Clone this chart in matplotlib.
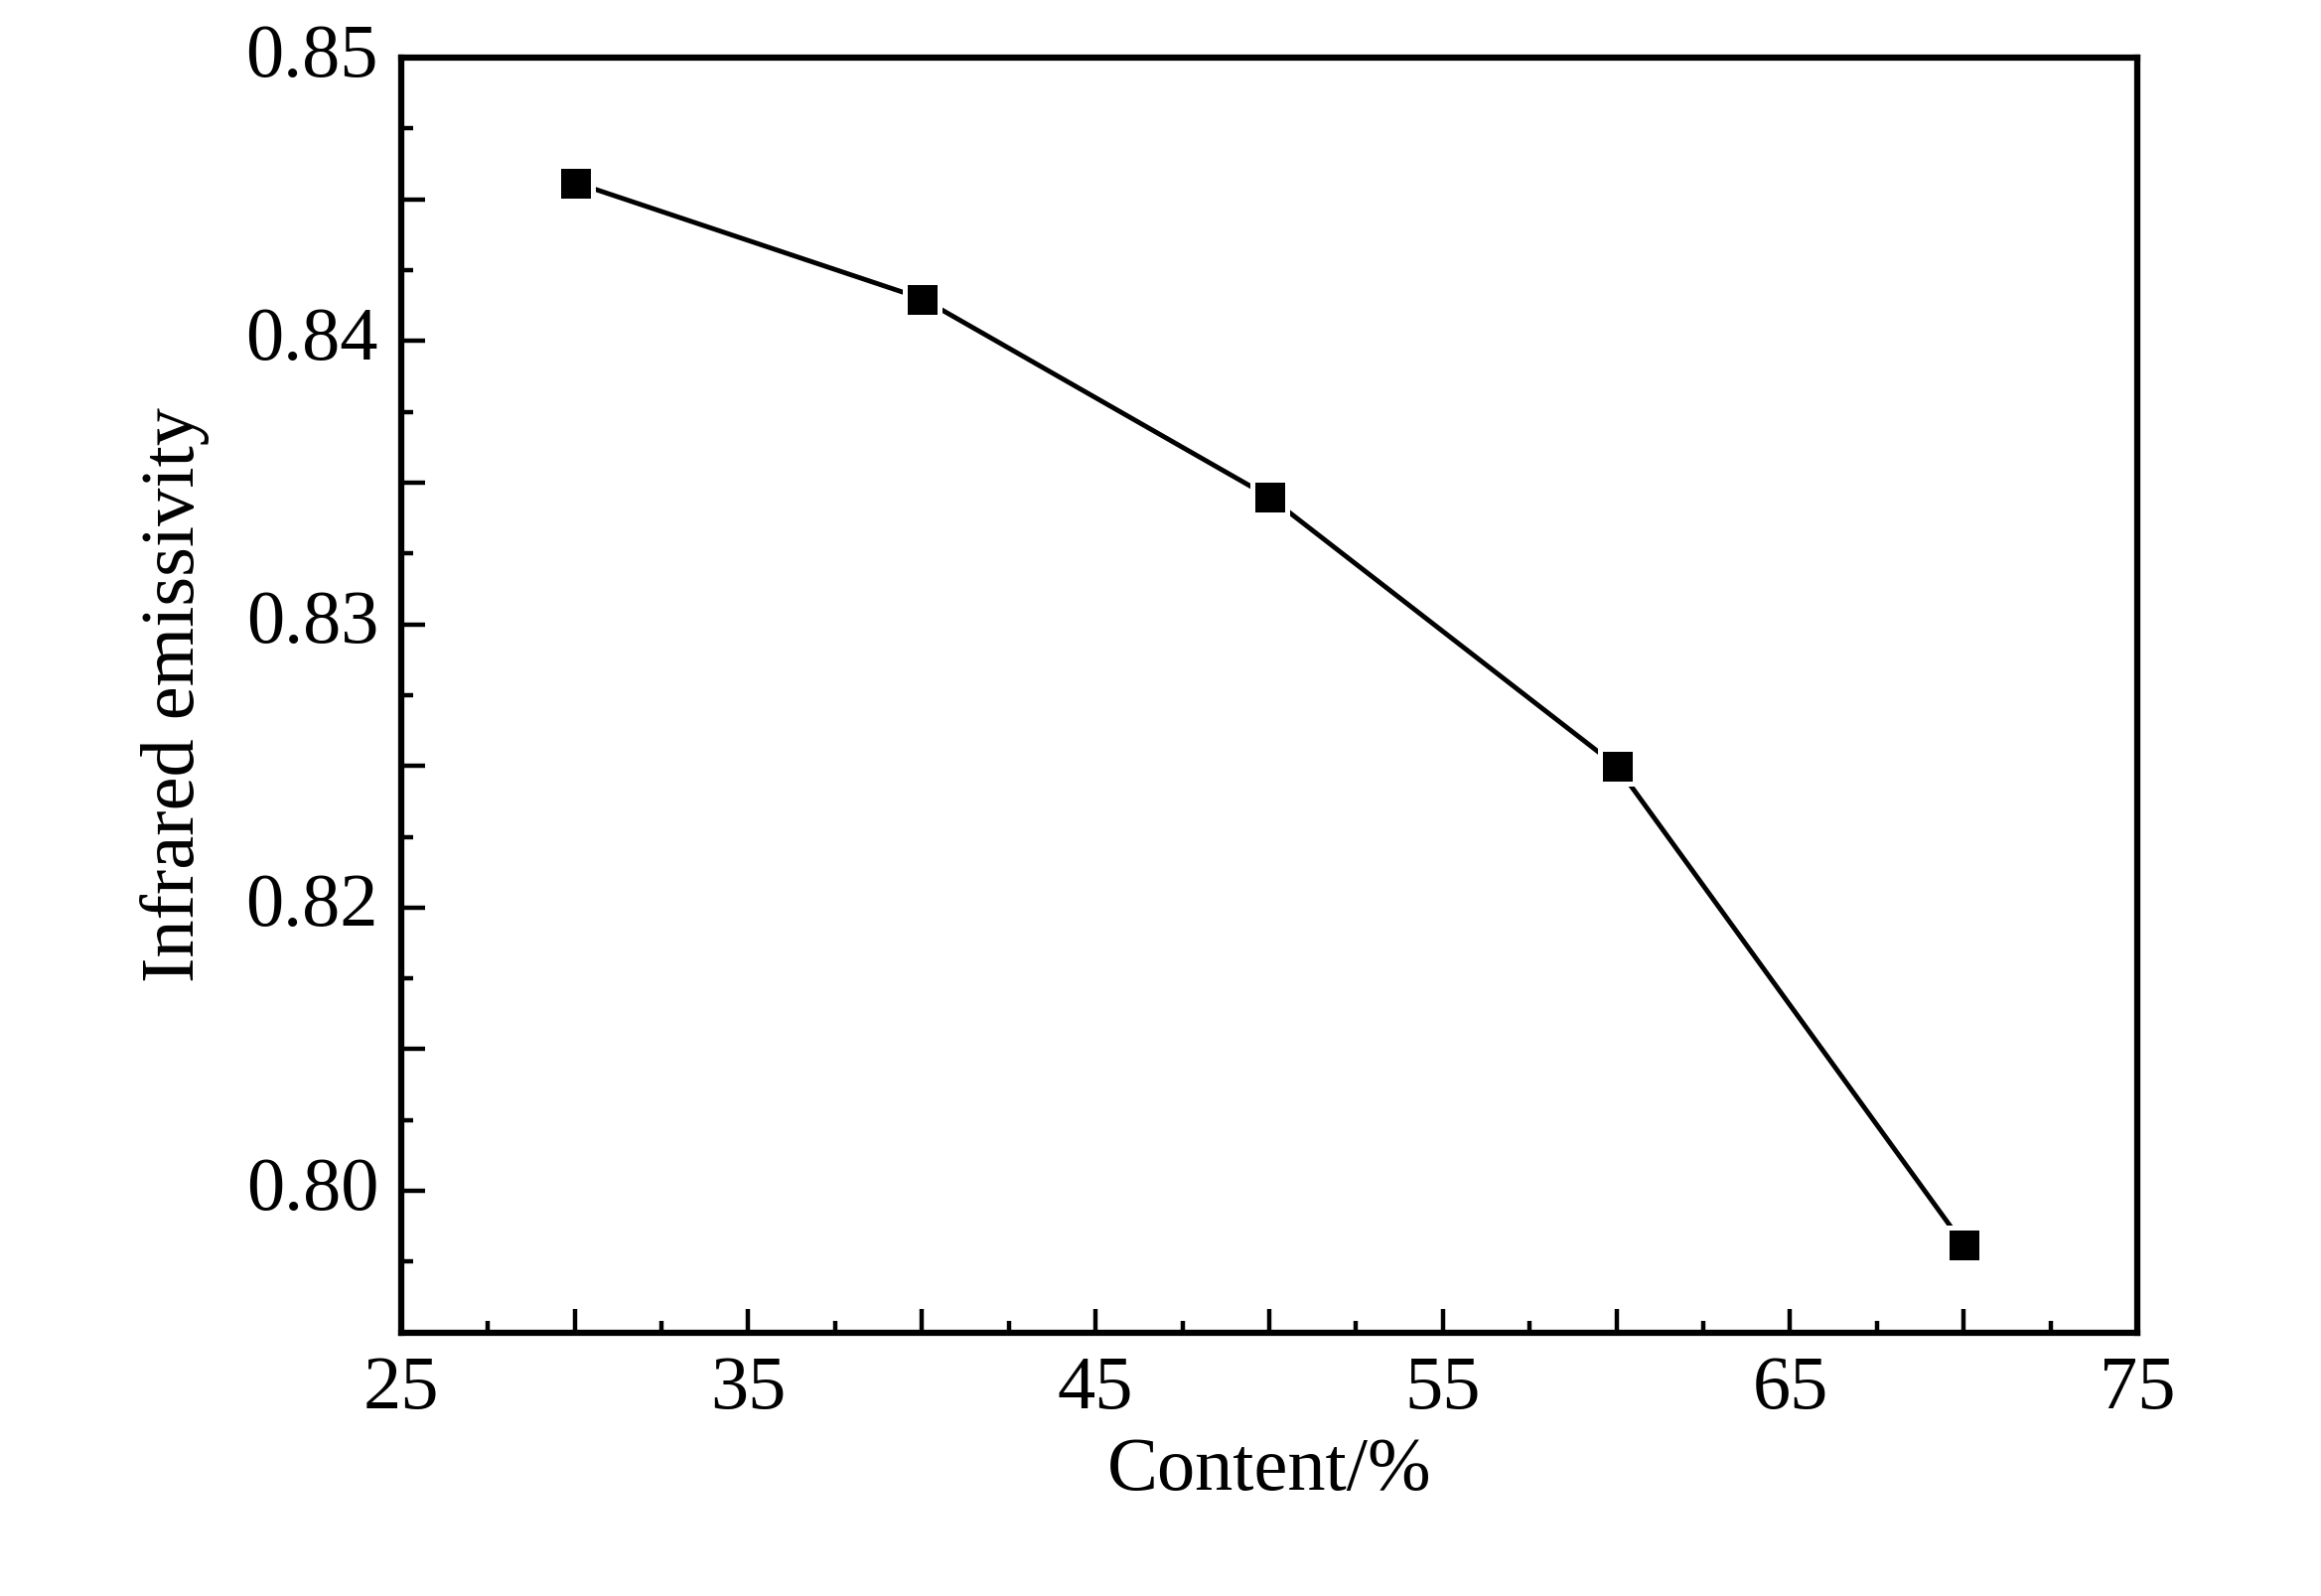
import matplotlib.pyplot as plt
from matplotlib.ticker import MultipleLocator

# Data
content = [30, 40, 50, 60, 70]
emissivity = [0.8456, 0.8415, 0.8345, 0.8250, 0.8081]

# Tick labels as printed in the original (lowest one reads 0.80)
ytick_pos = [0.81, 0.82, 0.83, 0.84, 0.85]
ytick_labels = ['0.80', '0.82', '0.83', '0.84', '0.85']
xtick_pos = [25, 35, 45, 55, 65, 75]
xtick_labels = ['25', '35', '45', '55', '65', '75']

plt.rcParams['font.family'] = ['Liberation Serif', 'DejaVu Serif']
FS = 55

fig = plt.figure(figsize=(23.37, 16.07), dpi=100)
ax = fig.add_axes([0.1728, 0.1651, 0.7481, 0.7987])

# line first, then markers with white edge to leave a small gap
ax.plot(content, emissivity, color='black', linewidth=3.5, zorder=2)
ax.plot(content, emissivity, linestyle='none', marker='s', markersize=25.2,
        markerfacecolor='black', markeredgecolor='white', markeredgewidth=3.6,
        zorder=3)

ax.set_xlim(25, 75)
ax.set_ylim(0.805, 0.85)

# major ticks every 5 / 0.005, labels only on every other one
ax.xaxis.set_major_locator(MultipleLocator(5))
ax.xaxis.set_minor_locator(MultipleLocator(2.5))
ax.yaxis.set_major_locator(MultipleLocator(0.005))
ax.yaxis.set_minor_locator(MultipleLocator(0.0025))
ax.set_xticklabels([])
ax.set_yticklabels([])

ax.tick_params(which='both', direction='in', top=False, right=False, width=3.2)
ax.tick_params(which='major', length=17)
ax.tick_params(which='minor', length=8.6)

# labels placed through the axis scales
for x, lab in zip(xtick_pos, xtick_labels):
    ax.text(x, -0.018, lab, transform=ax.get_xaxis_transform(),
            ha='center', va='top', fontsize=FS)
for y, lab in zip(ytick_pos, ytick_labels):
    ax.text(-0.013, y, lab, transform=ax.get_yaxis_transform(),
            ha='right', va='center', fontsize=FS)

for side in ax.spines.values():
    side.set_linewidth(4.5)

ax.set_xlabel('Content/%', fontsize=FS, labelpad=72)
ax.set_ylabel('Infrared emissivity', fontsize=FS, labelpad=135)

fig.savefig('out.png', dpi=100)
